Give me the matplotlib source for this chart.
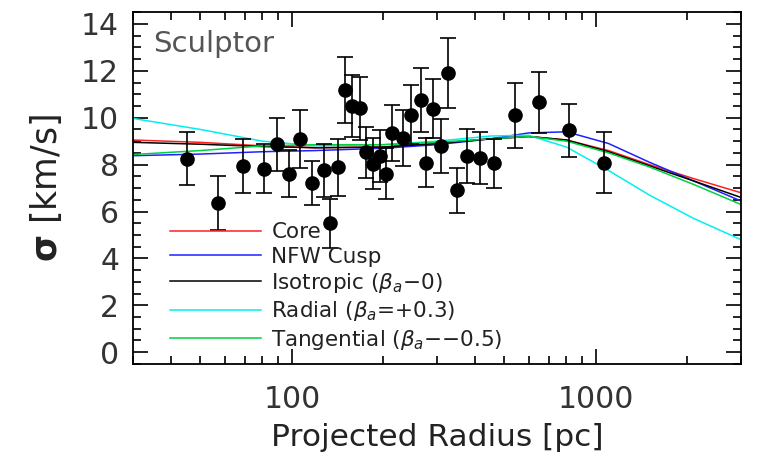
import matplotlib
matplotlib.use("Agg")
import matplotlib.pyplot as plt
from matplotlib.ticker import MultipleLocator, LogLocator, NullFormatter, FixedLocator, FixedFormatter

plt.rcParams['font.family'] = ['DejaVu Sans']
plt.rcParams['mathtext.fontset'] = 'dejavusans'

# binned velocity dispersion profile
radius = [45, 57, 69, 81, 89, 98, 106, 116, 127, 133, 142, 150, 158, 167,
          175, 185, 195, 204, 214, 232, 247, 265, 277, 290, 310, 326, 349,
          376, 414, 463, 542, 650, 815, 1062]
sigma = [8.25, 6.37, 7.93, 7.83, 8.86, 7.62, 9.1, 7.22, 7.75, 5.5, 7.88,
         11.17, 10.5, 10.4, 8.52, 8.04, 8.36, 7.62, 9.35, 9.15, 10.13,
         10.76, 8.08, 10.39, 8.79, 11.9, 6.9, 8.38, 8.27, 8.06, 10.1,
         10.65, 9.46, 8.08]
sigma_err = [1.12, 1.15, 1.15, 1.05, 1.12, 1.0, 1.25, 0.95, 1.15, 1.05,
             1.22, 1.4, 1.32, 1.35, 1.1, 1.1, 1.1, 1.1, 1.2, 1.2, 1.25,
             1.35, 1.05, 1.25, 1.14, 1.5, 0.95, 1.15, 1.1, 1.05, 1.37,
             1.3, 1.12, 1.3]

# model curves
model_r = [30, 50, 80, 120, 200, 300, 450, 600, 800, 1100, 1500, 2100, 3000]
core = [9.05, 8.95, 8.8, 8.72, 8.75, 8.9, 9.1, 9.2, 9.05, 8.6, 8.0, 7.4, 6.8]
nfw = [8.38, 8.45, 8.55, 8.6, 8.7, 8.85, 9.1, 9.35, 9.4, 8.9, 8.1, 7.3, 6.45]
isotropic = [8.95, 8.87, 8.77, 8.72, 8.75, 8.9, 9.1, 9.2, 9.05, 8.55, 7.95, 7.3, 6.6]
radial = [9.97, 9.5, 9.0, 8.8, 8.85, 9.0, 9.22, 9.25, 8.75, 7.75, 6.7, 5.7, 4.8]
tangential = [8.43, 8.6, 8.8, 8.85, 8.85, 8.95, 9.1, 9.2, 9.0, 8.5, 7.9, 7.15, 6.3]

labels = ['Core', 'NFW Cusp', r'Isotropic ($\beta_a$$-$0)',
          r'Radial ($\beta_a$=+0.3)', r'Tangential ($\beta_a$$-$$-$0.5)']
colors = ['#ff2020', '#2020ff', 'black', '#00f0f0', '#00d040']

fig = plt.figure(figsize=(7.6, 4.69), dpi=100)
ax = fig.add_axes([0.175, 0.224, 0.80, 0.750])

for ys, lab, c in zip([core, nfw, isotropic, radial, tangential], labels, colors):
    ax.plot(model_r, ys, color=c, lw=1.1, label=lab)

ax.errorbar(radius, sigma, yerr=sigma_err, fmt='o', color='black', ms=9.5,
            ecolor='black', elinewidth=1.2, capsize=6, capthick=1.2, zorder=5)

ax.set_xscale('log')
ax.set_xlim(30, 3000)
ax.set_ylim(-0.5, 14.5)
ax.xaxis.set_major_locator(FixedLocator([100, 1000]))
ax.xaxis.set_major_formatter(FixedFormatter(['100', '1000']))
ax.xaxis.set_minor_locator(LogLocator(base=10, subs=range(2, 10)))
ax.xaxis.set_minor_formatter(NullFormatter())
ax.yaxis.set_major_locator(MultipleLocator(2))
ax.yaxis.set_minor_locator(MultipleLocator(0.5))
ax.tick_params(which='both', direction='in', top=True, right=True,
               labelsize=21.5, width=1.2, colors='black')
ax.tick_params(which='major', length=11)
ax.tick_params(which='minor', length=6)
ax.tick_params(axis='x', pad=15)
ax.tick_params(axis='y', pad=10)
for lab in ax.get_xticklabels() + ax.get_yticklabels():
    lab.set_color('#333333')
for s in ax.spines.values():
    s.set_linewidth(1.3)

ax.set_xlabel('Projected Radius [pc]', fontsize=22.5, labelpad=7, color='#222222')
ax.set_ylabel(r'$\mathbf{\sigma}$ [km/s]', fontsize=25, labelpad=12, color='#222222')
ax.text(0.033, 0.95, 'Sculptor', transform=ax.transAxes, fontsize=21,
        color='#555555', ha='left', va='top')

leg = ax.legend(loc='lower left', bbox_to_anchor=(0.061, 0.035), frameon=False,
                fontsize=15.5, handlelength=4.2, handletextpad=0.5,
                labelspacing=0.2, borderaxespad=0, borderpad=0)
for t in leg.get_texts():
    t.set_color('#222222')

fig.savefig('out.png', dpi=100)
